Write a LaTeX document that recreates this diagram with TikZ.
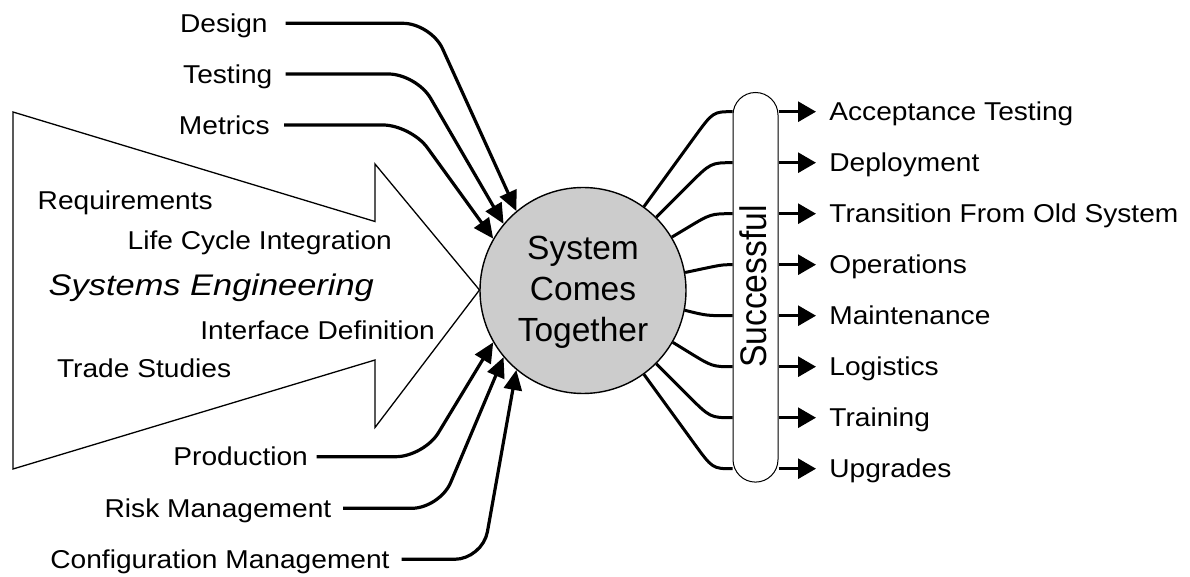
\documentclass[tikz,border=0pt]{standalone}
\usepackage{fontspec}
\setmainfont{Liberation Sans}
\usepackage{graphicx}
\usetikzlibrary{arrows.meta,calc}
\definecolor{hubgray}{RGB}{204,204,204}
\newcommand{\stretchx}[1]{\scalebox{1.09}[1]{#1}}
\tikzset{
  lbl/.style={inner sep=0pt, text height=9.24pt, text depth=0pt,
              font=\fontsize{12.9pt}{15pt}\selectfont},
  selbl/.style={inner sep=0pt, text height=10.67pt, text depth=0pt,
              font=\fontsize{14.9pt}{17pt}\selectfont},
  feed/.style={line width=1.6pt, rounded corners=14pt,
               -{Triangle[length=10pt,width=9pt]}},
  outflow/.style={line width=1.5pt, -{Triangle[length=9pt,width=10pt]}},
  spoke/.style={line width=1.5pt},
  bigarrow/.style={line width=0.65pt, line join=miter},
}
\begin{document}
\begin{tikzpicture}[x=0.5pt, y=-0.5pt]
\useasboundingbox (0,0) rectangle (1190,577);

% large "Systems Engineering" arrow
\draw[bigarrow] (13,112) -- (375,221.5) -- (375,164) -- (479.5,290)
  -- (375,427.5) -- (375,360) -- (13,469) -- cycle;
\node[lbl, anchor=west] (req) at (37.3,200.7) {\stretchx{Requirements}};
\node[lbl, anchor=west] (lci) at (127.3,240) {\stretchx{Life Cycle Integration}};
\node[selbl, anchor=west] (se) at (48.3,285) {\scalebox{1.155}[1]{\itshape Systems Engineering}};
\node[lbl, anchor=west] (ifd) at (200,330) {\stretchx{Interface Definition}};
\node[lbl, anchor=west] (trade) at (56.7,368.3) {\stretchx{Trade Studies}};

% central hub
\node[circle, draw, line width=0.7pt, fill=hubgray, minimum size=103pt, inner sep=0pt] (C) at (583,290.5) {};
\node[font=\fontsize{16.75pt}{20.3pt}\selectfont, align=center, inner sep=0pt] (hubtext) at (583,292.2) {System\\Comes\\Together};

% incoming disciplines
\node[lbl, anchor=east] (design) at (268,23.3) {\stretchx{Design}};
\node[lbl, anchor=east] (testing) at (272.7,74) {\stretchx{Testing}};
\node[lbl, anchor=east] (metrics) at (270,125) {\stretchx{Metrics}};
\node[lbl, anchor=east] (production) at (308.3,456.7) {\stretchx{Production}};
\node[lbl, anchor=east] (risk) at (331.7,508.3) {\stretchx{Risk Management}};
\node[lbl, anchor=east] (config) at (390,559.3) {\stretchx{Configuration Management}};

\coordinate (kdes) at (431,23.3);
\coordinate (ktst) at (416.5,74);
\coordinate (kmet) at (410.9,125);
\coordinate (kpro) at (423.9,456.7);
\coordinate (krsk) at (439.8,508.3);
\coordinate (kcfg) at (482.5,559.3);

\draw[feed] ([xshift=8.85pt]design.east) -- (kdes) -- (C.130);
\draw[feed] ([xshift=6.5pt]testing.east) -- (ktst) -- (C.140);
\draw[feed] ([xshift=7pt]metrics.east) -- (kmet) -- (C.150);
\draw[feed] ([xshift=4.2pt]production.east) -- (kpro) -- (C.210);
\draw[feed] ([xshift=5.65pt]risk.east) -- (krsk) -- (C.220);
\draw[feed] ([xshift=5.85pt]config.east) -- (kcfg) -- (C.230);

% "Successful" gate
\node[draw, line width=0.5pt, fill=white, rounded corners=11.25pt,
      minimum width=22.5pt, minimum height=194.8pt, inner sep=0pt] (pill) at (755.5,287.3) {};
\node[rotate=90, anchor=base, inner sep=0pt, font=\fontsize{18.5pt}{20pt}\selectfont] (succ)
      at (766,286.5) {\scalebox{0.91}[1]{Successful}};

% outcomes
\node[lbl, anchor=west] (r1) at (829,111.7) {\stretchx{Acceptance Testing}};
\node[lbl, anchor=west] (r2) at (829,162.7) {\stretchx{Deployment}};
\node[lbl, anchor=west] (r3) at (829,213.7) {\stretchx{Transition From Old System}};
\node[lbl, anchor=west] (r4) at (829,264.7) {\stretchx{Operations}};
\node[lbl, anchor=west] (r5) at (829,315.7) {\stretchx{Maintenance}};
\node[lbl, anchor=west] (r6) at (829,366.7) {\stretchx{Logistics}};
\node[lbl, anchor=west] (r7) at (829,417.7) {\stretchx{Training}};
\node[lbl, anchor=west] (r8) at (829,468.7) {\stretchx{Upgrades}};

\coordinate (k1) at (713,111.7);
\coordinate (k2) at (710.8,162.7);
\coordinate (k3) at (710.8,213.7);
\coordinate (k4) at (722,264.7);
\coordinate (k5) at (706.8,315.7);
\coordinate (k6) at (712.4,366.7);
\coordinate (k7) at (710.2,417.7);
\coordinate (k8) at (712.5,468.7);

\foreach \i/\a/\d in {1/54/16pt, 2/45/16pt, 3/31/14pt, 4/10.5/12pt, 5/-11.5/10pt, 6/-30.5/14pt, 7/-45/16pt, 8/-54/16pt} {
  \draw[spoke] (C.\a) -- ($(k\i)!\d!(C.\a)$) .. controls (k\i) .. (pill.west |- r\i.west);
  \draw[outflow] (pill.east |- r\i.west) -- ([xshift=-6.5pt]r\i.west);
}
\end{tikzpicture}
\end{document}
